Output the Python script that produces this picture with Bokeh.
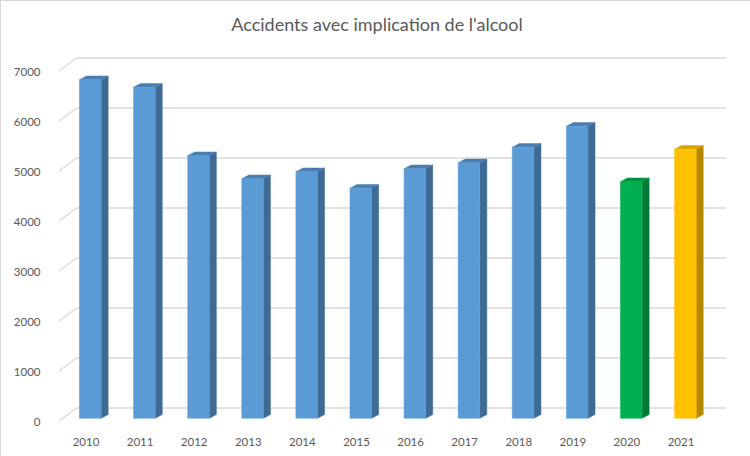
from bokeh.plotting import figure
from bokeh.embed import file_html
from bokeh.resources import INLINE
from bokeh.models import Range1d, FixedTicker, Label

# ---- data ----
years = ["2010", "2011", "2012", "2013", "2014", "2015",
         "2016", "2017", "2018", "2019", "2020", "2021"]
accidents = [6770, 6620, 5250, 4790, 4930, 4600, 4990, 5110, 5420, 5840, 4730, 5380]
y_ticks = [0, 1000, 2000, 3000, 4000, 5000, 6000, 7000]
title_text = "Accidents avec implication de l'alcool"

# ---- style ----
FRONT = {"blue": "#5B9BD5", "green": "#00B050", "yellow": "#FFC000"}
SIDE = {"blue": "#3E6A94", "green": "#007A36", "yellow": "#B58800"}
TOP = {"blue": "#4A7EB2", "green": "#00923F", "yellow": "#D6A200"}
bar_color_keys = ["blue"] * 10 + ["green", "yellow"]

BAR_SHIFT = 0.08    # bar centre right of label (3D projection)
BAR_W = 0.40        # front face width (x units)
DEPTH_X = 0.13      # side face width (x units)
DEPTH_Y = 75        # top face rise (y units)
BAR_LIFT = 65       # bar sits behind front plane
WALL_X = 0.333      # back wall shift
WALL_Y = 270
GRID = "#D9D9D9"
TXT = "#595959"
FONT = "Lato"

x_start, x_end = -0.508, 11.84
y_start, y_end = -80, 8240   # frame extends up to hold the title

p = figure(width=750, height=456, output_backend="svg", toolbar_location=None,
           x_range=Range1d(x_start, x_end), y_range=Range1d(y_start, y_end),
           frame_width=668, frame_height=416,
           min_border_left=57, min_border_right=25, min_border_top=8,
           min_border_bottom=32,
           styles={"border": "1px solid #D9D9D9", "box-sizing": "border-box"})
p.outline_line_color = None
p.background_fill_color = "white"
p.border_fill_color = "white"
p.xgrid.visible = False
p.ygrid.visible = False

# title, placed above the gridded area
p.add_layout(Label(x=5.38, y=7960, text=title_text, text_align="center",
                   text_baseline="middle", text_font=FONT, text_font_size="18px",
                   text_color=TXT))

# back wall gridlines + diagonals on left
gx0 = [x_start + WALL_X] * len(y_ticks)
gx1 = [x_end] * len(y_ticks)
gy = [t + WALL_Y for t in y_ticks]
p.segment(x0=gx0, y0=gy, x1=gx1, y1=gy, line_color=GRID, line_width=1.3)
p.segment(x0=[x_start] * len(y_ticks), y0=y_ticks, x1=gx0, y1=gy,
          line_color=GRID, line_width=1.3)

# bars: side, top, front
xs_side, ys_side, xs_top, ys_top, side_c, top_c = [], [], [], [], [], []
lefts, rights, tops, bottoms, front_c = [], [], [], [], []
for i, v in enumerate(accidents):
    c = bar_color_keys[i]
    xc = i + BAR_SHIFT
    xl, xr = xc - BAR_W / 2, xc + BAR_W / 2
    b, t = BAR_LIFT, v + BAR_LIFT
    xs_side.append([xr, xr + DEPTH_X, xr + DEPTH_X, xr])
    ys_side.append([b, b + DEPTH_Y, t + DEPTH_Y, t])
    xs_top.append([xl, xr, xr + DEPTH_X, xl + DEPTH_X])
    ys_top.append([t, t, t + DEPTH_Y, t + DEPTH_Y])
    side_c.append(SIDE[c])
    top_c.append(TOP[c])
    lefts.append(xl); rights.append(xr); tops.append(t); bottoms.append(b)
    front_c.append(FRONT[c])

p.patches(xs=xs_side, ys=ys_side, fill_color=side_c, line_color=side_c, line_width=0.5)
p.patches(xs=xs_top, ys=ys_top, fill_color=top_c, line_color=top_c, line_width=0.5)
p.quad(left=lefts, right=rights, top=tops, bottom=bottoms,
       fill_color=front_c, line_color=front_c, line_width=0.5)

# axes
p.yaxis.ticker = FixedTicker(ticks=y_ticks)
p.xaxis.ticker = FixedTicker(ticks=list(range(len(years))))
p.xaxis.major_label_overrides = {i: y for i, y in enumerate(years)}
for ax in (p.xaxis[0], p.yaxis[0]):
    ax.axis_line_color = None
    ax.major_tick_line_color = None
    ax.minor_tick_line_color = None
    ax.major_label_text_font = FONT
    ax.major_label_text_font_size = "11.5px"
    ax.major_label_text_color = TXT
p.yaxis.major_label_standoff = 12
p.xaxis.major_label_standoff = 6

open("out.html", "w").write(file_html(p, INLINE))
